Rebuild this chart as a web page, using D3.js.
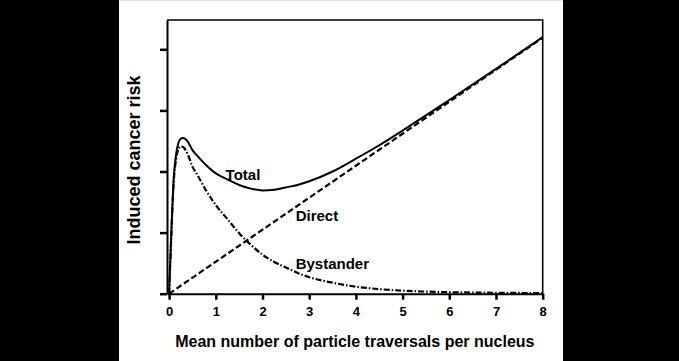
<!DOCTYPE html>
<html>
<head>
<meta charset="utf-8">
<script src="https://cdn.jsdelivr.net/npm/d3@7/dist/d3.min.js"></script>
<style>
html,body{margin:0;padding:0;background:#000;}
svg{display:block;}
text{font-family:"Liberation Sans",Arial,sans-serif;font-weight:bold;fill:#000;}
</style>
</head>
<body>
<svg id="chart" width="679" height="361"></svg>
<script>
// Data
const xValues   = [0, 0.05, 0.1, 0.15, 0.2, 0.25, 0.3, 0.4, 0.5, 0.6, 0.8, 1.0, 1.25, 1.5, 1.75, 2.0, 2.25, 2.5, 2.75, 3.0, 3.5, 4.0, 4.5, 5.0, 5.5, 6.0, 7.0, 8.0];
const bystander = [0, 1.0, 1.85, 2.2, 2.37, 2.41, 2.40, 2.28, 2.08, 1.95, 1.68, 1.45, 1.22, 0.99, 0.8, 0.64, 0.52, 0.43, 0.34, 0.27, 0.18, 0.115, 0.075, 0.05, 0.035, 0.025, 0.015, 0.01];
const total     = [0, 1.05, 1.9, 2.28, 2.47, 2.54, 2.55, 2.49, 2.35, 2.26, 2.10, 1.97, 1.87, 1.78, 1.72, 1.69, 1.70, 1.74, 1.78, 1.84, 2.0, 2.21, 2.43, 2.67, 2.92, 3.17, 3.68, 4.20];
const directX   = [0, 8];
const directY   = [0, 4.19];
const xTicks    = [0, 1, 2, 3, 4, 5, 6, 7, 8];
const yTicks    = [0, 1, 2, 3, 4];
const labels    = [
  {text: "Total",     x: 1.21, y: 1.86},
  {text: "Direct",    x: 2.71, y: 1.19},
  {text: "Bystander", x: 2.71, y: 0.41}
];

(function () {
const svg = d3.select("#chart");
// white panel
svg.append("rect").attr("x", 119).attr("y", 0).attr("width", 444).attr("height", 361).attr("fill", "#fff");
svg.append("line").attr("x1", 119).attr("x2", 563).attr("y1", 0.5).attr("y2", 0.5).attr("stroke", "#e4e4e4").attr("stroke-width", 1);

const pL = 167, pR = 542.7, pT = 20, pB = 293.7;
const x = d3.scaleLinear().domain([-0.045, 8]).range([pL, pR]);
const y = d3.scaleLinear().domain([0, 4.48]).range([pB, pT]);

// box top/right
svg.append("path")
  .attr("d", `M${pL},${pT}H${pR}V${pB}`)
  .attr("fill", "none").attr("stroke", "#000").attr("stroke-width", 1.6);

// axes
const xAxis = svg.append("g").attr("transform", `translate(0,${pB})`)
  .call(d3.axisBottom(x).tickValues(xTicks).tickSize(6).tickPadding(7).tickSizeOuter(0));
xAxis.select(".domain").attr("stroke-width", 2);
xAxis.selectAll(".tick line").attr("stroke-width", 2.5);
xAxis.selectAll(".tick text").style("font-size", "13px").style("font-family", "Liberation Sans, Arial, sans-serif").style("font-weight", "bold");

const yAxis = svg.append("g").attr("transform", `translate(${pL},0)`)
  .call(d3.axisLeft(y).tickValues(yTicks).tickSize(7).tickFormat("").tickSizeOuter(0));
yAxis.select(".domain").attr("stroke-width", 2);
yAxis.selectAll(".tick line").attr("stroke-width", 2.5);

// curves
const line = d3.line().x(d => x(d[0])).y(d => y(d[1])).curve(d3.curveMonotoneX);

svg.append("path")
  .datum(directX.map((v, i) => [v, directY[i]]))
  .attr("d", line).attr("fill", "none").attr("stroke", "#000")
  .attr("stroke-width", 2.2).attr("stroke-dasharray", "6,3");

svg.append("path")
  .datum(xValues.map((v, i) => [v, bystander[i]]))
  .attr("d", line).attr("fill", "none").attr("stroke", "#000")
  .attr("stroke-width", 2.2).attr("stroke-dasharray", "6,2,1.5,2");

svg.append("path")
  .datum(xValues.map((v, i) => [v, total[i]]))
  .attr("d", line).attr("fill", "none").attr("stroke", "#000")
  .attr("stroke-width", 2);

// curve labels
svg.selectAll(".lbl").data(labels).enter().append("text")
  .attr("class", "lbl")
  .attr("x", d => x(d.x)).attr("y", d => y(d.y))
  .style("font-size", "15px")
  .text(d => d.text);

// axis titles
svg.append("text")
  .attr("x", (pL + pR) / 2).attr("y", 347)
  .attr("text-anchor", "middle").style("font-size", "16px")
  .text("Mean number of particle traversals per nucleus");

svg.append("text")
  .attr("transform", "translate(140,160) rotate(-90)")
  .attr("text-anchor", "middle").style("font-size", "18px")
  .text("Induced cancer risk");
})();
</script>
</body>
</html>
